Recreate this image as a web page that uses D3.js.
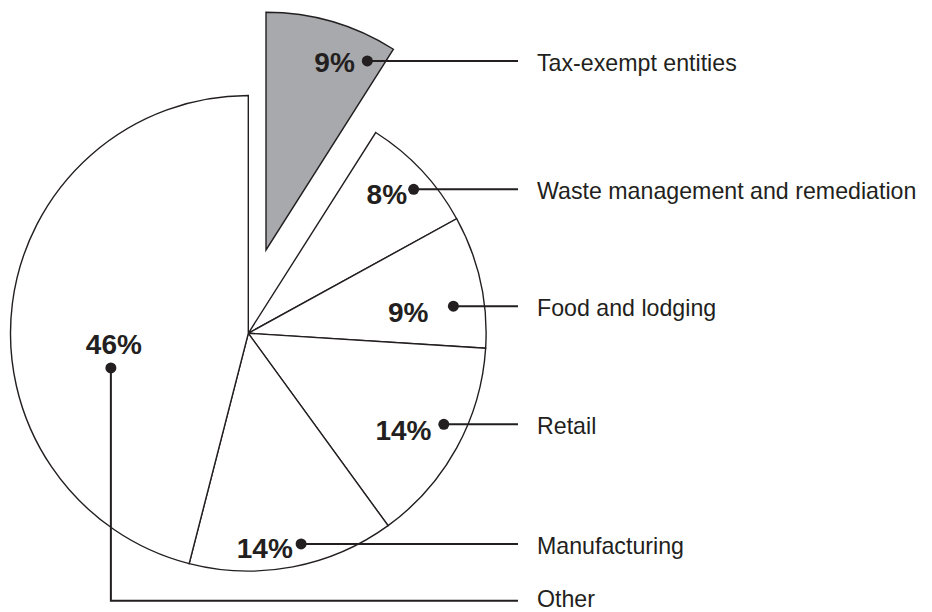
<!DOCTYPE html>
<html>
<head>
<meta charset="utf-8">
<script src="https://cdn.jsdelivr.net/npm/d3@7/dist/d3.min.js"></script>
<style>
  html, body { margin: 0; padding: 0; background: #fff; }
  svg { display: block; }
</style>
</head>
<body>
<svg id="chart" width="932" height="612"></svg>
<script>
// ---- data ----
const categories = ["Tax-exempt entities", "Waste management and remediation", "Food and lodging", "Retail", "Manufacturing", "Other"];
const values = [9, 8, 9, 14, 14, 46];
const valueLabels = ["9%", "8%", "9%", "14%", "14%", "46%"];
const exploded = [true, false, false, false, false, false];

// ---- layout ----
const W = 932, H = 612;
const cx = 248.3, cy = 333.3, R = 237.8;
const explodeDx = 17.7, explodeDy = -83.3;
const ink = "#231f20";
// dot placement within slice: fraction of the slice angle, fraction of radius
const dotPlace = [
  {af: 0.870, rf: 0.902},
  {af: 0.575, rf: 0.922},
  {af: 0.656, rf: 0.870},
  {af: 0.424, rf: 0.907},
  {af: 0.435, rf: 0.913},
  {af: 0.371, rf: 0.596}
];
// percent text offsets relative to dot (anchor end unless noted)
const pctOff = [
  {dx: -12.5, dy: 10.7, anchor: "end"},
  {dx: -6.6, dy: 14.3, anchor: "end"},
  {dx: -25, dy: 15.7, anchor: "end"},
  {dx: -12.3, dy: 15.7, anchor: "end"},
  {dx: -8.3, dy: 14, anchor: "end"},
  {dx: 3, dy: -14, anchor: "middle"}
];
const lineEndX = 518, labelX = 537, otherLineY = 600.7;

const svg = d3.select("#chart");
const pie = d3.pie().sort(null).value(d => d).startAngle(0).endAngle(2 * Math.PI);
const arcs = pie(values);
const arc = d3.arc().innerRadius(0).outerRadius(R);

const g = svg.append("g");

arcs.forEach((a, i) => {
  const ox = exploded[i] ? explodeDx : 0, oy = exploded[i] ? explodeDy : 0;
  g.append("path")
    .attr("transform", `translate(${cx + ox},${cy + oy})`)
    .attr("d", arc(a))
    .attr("fill", exploded[i] ? "#a7a9ac" : "#ffffff")
    .attr("stroke", ink)
    .attr("stroke-width", 1.4)
    .attr("stroke-linejoin", "miter");
});

arcs.forEach((a, i) => {
  const ox = exploded[i] ? explodeDx : 0, oy = exploded[i] ? explodeDy : 0;
  const p = dotPlace[i];
  const ang = a.startAngle + p.af * (a.endAngle - a.startAngle);
  const r = p.rf * R;
  const dx = cx + ox + r * Math.sin(ang);
  const dy = cy + oy - r * Math.cos(ang);
  const isLast = i === arcs.length - 1;

  // leader line
  let pts;
  if (isLast) {
    pts = [[dx, dy], [dx, otherLineY], [lineEndX, otherLineY]];
  } else {
    pts = [[dx, dy], [lineEndX, dy]];
  }
  g.append("path")
    .attr("d", d3.line()(pts))
    .attr("fill", "none")
    .attr("stroke", ink)
    .attr("stroke-width", 2);

  g.append("circle")
    .attr("cx", dx).attr("cy", dy).attr("r", 5.5)
    .attr("fill", ink);

  const o = pctOff[i];
  g.append("text")
    .attr("x", dx + o.dx)
    .attr("y", dy + o.dy)
    .attr("text-anchor", o.anchor)
    .attr("font-family", "'Liberation Sans', Arial, Helvetica, sans-serif")
    .attr("font-weight", "bold")
    .attr("font-size", 28)
    .attr("fill", ink)
    .text(valueLabels[i]);

  const ly = isLast ? otherLineY - 3.5 : dy;
  g.append("text")
    .attr("x", labelX)
    .attr("y", ly + 10)
    .attr("font-family", "'Liberation Sans', Arial, Helvetica, sans-serif")
    .attr("font-size", 23.2)
    .attr("fill", ink)
    .text(categories[i]);
});
</script>
</body>
</html>
